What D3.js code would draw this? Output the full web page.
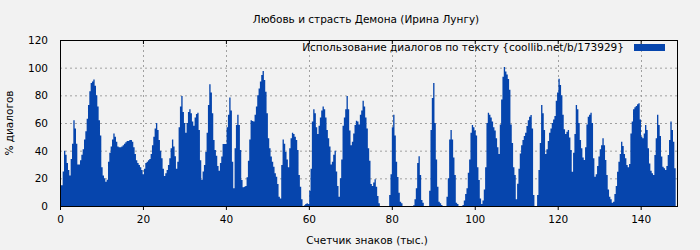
<!DOCTYPE html>
<html>
<head>
<meta charset="utf-8">
<script src="https://cdn.jsdelivr.net/npm/d3@7"></script>
<style>
  body { margin: 0; background: #f2f2f2; }
  svg text { font-family: "DejaVu Sans", sans-serif; font-size: 10.5px; fill: #000; }
</style>
</head>
<body>
<svg id="chart"></svg>
<script>
// dialog share (%) per sample
const usage = [
  15,15,25,40,37,31,26,22,34,45,62,56,45,30,30,33,37,41,48,54,63,73,83,89,90,91.5,87,80,72,62,
  51,28,22,20,17.6,19,32,38.5,43,48,52.5,50,46.5,43,42.4,42.4,43,44,45,46,47,47,47.7,47.7,46.5,42.4,37.6,33,31,29.6,
  28,26,23,27,31,32,33,34,37.6,44,50,56,60,55,47.7,40,34.5,27,21.7,23.6,26,29.6,34.5,41.7,48,43,36,27,32,57,
  72,79.5,68,
  60,53,60,68,70,67,61,58,64,66.5,67.5,55,33,19,25,29.6,39,53,73,88,82,67,47.7,40.5,36.4,29,25.5,31,35.7,44.8,
  44.8,44.8,57,66,78.5,69,32,12.8,41.7,58.5,66,58.5,40.5,18.8,13.5,14,14.5,20.7,32.8,48,62,61.4,61,66,72,80,85,90,94.7,97.6,
  91,82.6,67,49,41.7,35.7,32,28.4,23.6,21.2,15.9,6.7,5.5,29.6,48,45,39,33.7,28,41.7,49,53,52,50,47.7,40.5,22.4,14,4.8,0,
  0.5,1.4,2,
  1.5,11,27,61,70,67,57,52,58,64,69,72,70,64,55,49,43,30,32,37,40,25,14.5,6.7,20,33.7,58,64,70,79.5,
  70,54.5,44,46.5,52.5,58.5,61.7,61,59,66,69,76,72,64,56,41.7,32.8,15.9,14.5,17,19.3,14,7.2,1.9,0,0,0,0,0,0,
  0,8,23,57,66,51,32,21,9.6,3,2,0,0,0,0,0,0,0,0,0.5,4.8,12.8,31,36,22.4,4.3,2.4,0,0,0,
  0,11,55,
  78,89,60,33.7,14,3,2,0.7,0,0,0,6.7,20,48,55,48,35,22.4,2.4,1.4,0,0,0,0.7,3.9,8.7,12.8,24,33.7,53,
  58.5,57,54.5,51,28,18.8,5.5,1.4,3.9,12,28,60,67.5,66,64,61,57,54.5,49,42.4,37.6,59,77,93.5,100.5,97.3,95,91.8,84,59,
  45.5,28,22.4,4.8,16,27,38,44,47.7,50.6,53,57.8,62,64.6,65.8,56,8,0,0,8,26,45.5,73,67,55,37.6,41,47,53,56,
  60,62.6,65,
  76,82,92,87.5,80,66,55.4,52,53.7,55,49.6,40.5,24.8,38.5,52,73,70,60,47.7,41.7,35,33.3,42.4,59,64.6,66,67.5,60,34.5,21.2,
  23,29,35.7,41,44,49,44,33.3,22.4,12,6.7,4.8,2.4,3,8.7,14.5,24.8,32,37.6,46.5,43.4,37.6,34.5,29.6,28,30.4,52.5,61,70,71.3,
  72.3,73.5,74.2,62.6,50,49,52.5,58.5,55,41.7,30.8,25.5,23.6,22.4,36.9,49,66,58.5,50.6,35.7,28.4,27.2,26,29,36.9,47.7,61,55,46.5,27.2
];
const step = 0.3213; // thousand chars per sample
const xMax = 149;
const xTicks = [0, 20, 40, 60, 80, 100, 120, 140];
const yTicks = [0, 20, 40, 60, 80, 100, 120];

const title = "Любовь и страсть Демона (Ирина Лунгу)";
const seriesName = "Использование диалогов по тексту {coollib.net/b/173929}";
const xLabel = "Счетчик знаков (тыс.)";
const yLabel = "% диалогов";

const width = 700;
const height = 250;
const margin = { top: 40, right: 22, bottom: 44, left: 60 };
const barColor = "#0645ad";

const svg = d3.select("#chart")
  .attr("width", width)
  .attr("height", height);

svg.append("rect")
  .attr("width", width)
  .attr("height", height)
  .attr("fill", "#f2f2f2");

const x = d3.scaleLinear()
  .domain([0, xMax])
  .range([margin.left, width - margin.right]);

const y = d3.scaleLinear()
  .domain([0, 120])
  .range([height - margin.bottom, margin.top]);

// grid (behind the data)
const grid = svg.append("g")
  .attr("stroke", "#a0a0a0")
  .attr("stroke-dasharray", "2,3");

grid.selectAll("line.h")
  .data(yTicks.filter(d => d > 0 && d < 120))
  .enter().append("line")
  .attr("x1", margin.left)
  .attr("x2", width - margin.right)
  .attr("y1", d => y(d) + 0.5)
  .attr("y2", d => y(d) + 0.5);

grid.selectAll("line.v")
  .data(xTicks.filter(d => d > 0))
  .enter().append("line")
  .attr("x1", d => Math.round(x(d)) + 0.5)
  .attr("x2", d => Math.round(x(d)) + 0.5)
  .attr("y1", margin.top)
  .attr("y2", height - margin.bottom);

// step area
const pts = usage.map((v, i) => [i * step, v]);
pts.push([usage.length * step, usage[usage.length - 1]]);

const area = d3.area()
  .curve(d3.curveStepAfter)
  .x(d => x(d[0]))
  .y0(y(0))
  .y1(d => y(d[1]));

svg.append("path")
  .datum(pts)
  .attr("d", area)
  .attr("fill", barColor);

// axes
const xAxis = svg.append("g")
  .attr("transform", `translate(0, ${height - margin.bottom})`)
  .call(d3.axisBottom(x).tickValues(xTicks).tickSize(4).tickPadding(6));
xAxis.select(".domain").remove();
xAxis.selectAll("text").style("font-size", "10.5px").style("font-family", "DejaVu Sans, sans-serif");

const xTop = svg.append("g")
  .attr("transform", `translate(0, ${margin.top})`)
  .call(d3.axisBottom(x).tickValues(xTicks).tickSize(4).tickFormat(""));
xTop.select(".domain").remove();

const yAxis = svg.append("g")
  .attr("transform", `translate(${margin.left}, 0)`)
  .call(d3.axisLeft(y).tickValues(yTicks).tickSize(0).tickPadding(12));
yAxis.select(".domain").remove();
yAxis.selectAll("text").style("font-size", "10.5px").style("font-family", "DejaVu Sans, sans-serif");

// border
svg.append("rect")
  .attr("x", margin.left + 0.5)
  .attr("y", margin.top + 0.5)
  .attr("width", width - margin.left - margin.right - 1)
  .attr("height", height - margin.top - margin.bottom)
  .attr("fill", "none")
  .attr("stroke", "#000");

// legend
svg.append("text")
  .attr("x", 624)
  .attr("y", 51)
  .attr("text-anchor", "end")
  .text(seriesName);

svg.append("rect")
  .attr("x", 634)
  .attr("y", 44)
  .attr("width", 31)
  .attr("height", 7)
  .attr("fill", barColor);

// titles
svg.append("text")
  .attr("x", 366)
  .attr("y", 23)
  .attr("text-anchor", "middle")
  .text(title);

svg.append("text")
  .attr("x", 367)
  .attr("y", 244)
  .attr("text-anchor", "middle")
  .text(xLabel);

svg.append("text")
  .attr("transform", `translate(13, ${(margin.top + height - margin.bottom) / 2}) rotate(-90)`)
  .attr("text-anchor", "middle")
  .text(yLabel);
</script>
</body>
</html>
